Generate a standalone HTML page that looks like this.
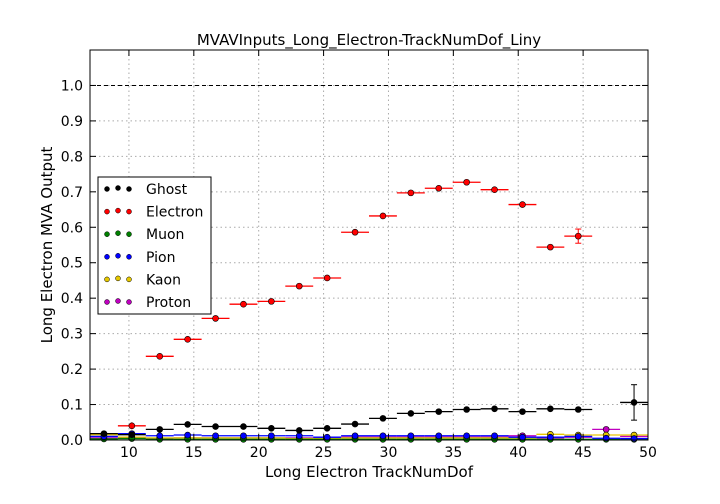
<!DOCTYPE html>
<html><head><meta charset="utf-8"><style>
body{margin:0;background:#fff;overflow:hidden;}
svg{display:block;}
svg text{font-family:"DejaVu Sans","Liberation Sans",sans-serif;}
</style></head><body>
<svg id="chart" width="720" height="504" viewBox="0 0 720 504" xmlns="http://www.w3.org/2000/svg">
<rect width="720" height="504" fill="#fff"/>
<g id="grid"></g>
<g id="marks"></g>
<g id="axes"></g>
<text x="369" y="45" font-size="15" text-anchor="middle">MVAVInputs_Long_Electron-TrackNumDof_Liny</text>
<text x="369" y="477" font-size="15" text-anchor="middle">Long Electron TrackNumDof</text>
<text x="0" y="0" font-size="15" text-anchor="middle" transform="translate(52,245) rotate(-90)">Long Electron MVA Output</text>
</svg>
<script>
const binCenters=[8.075,10.225,12.375,14.525,16.675,18.825,20.975,23.125,25.275,27.425,29.575,31.725,33.875,36.025,38.175,40.325,42.475,44.625,46.775,48.925];
const ghost=[0.018,0.015,0.030,0.044,0.038,0.038,0.033,0.027,0.033,0.045,0.061,0.075,0.080,0.086,0.088,0.080,0.088,0.086,null,0.106];
const ghostErr=[0.003,0.003,0.003,0.003,0.003,0.003,0.003,0.003,0.003,0.003,0.003,0.003,0.003,0.003,0.003,0.003,0.003,0.003,0,0.05];
const electron=[null,0.040,0.236,0.284,0.343,0.383,0.391,0.434,0.457,0.586,0.632,0.697,0.710,0.727,0.706,0.664,0.544,0.575,null,null];
const electronErr=[0,0.01,0.008,0.006,0.005,0.005,0.005,0.005,0.005,0.005,0.005,0.005,0.005,0.005,0.005,0.006,0.008,0.02,0,0];
const muon=[0.003,0.004,0.002,0.002,0.002,0.002,0.002,0.002,0.002,0.002,0.002,0.002,0.002,0.002,0.002,0.002,0.002,0.002,0.002,0.002];
const pion=[0.010,0.018,0.012,0.014,0.012,0.012,0.012,0.012,0.008,0.012,0.012,0.012,0.012,0.012,0.012,0.008,0.008,0.010,0.005,0.004];
const kaon=[0.015,0.008,0.006,0.006,0.006,0.006,0.006,0.004,0.004,0.006,0.006,0.006,0.006,0.006,0.006,0.006,0.016,0.014,0.014,0.014];
const proton=[0.006,0.006,0.004,0.006,0.006,0.006,0.006,0.006,0.006,0.008,0.008,0.008,0.008,0.008,0.008,0.012,0.006,0.008,0.030,0.010];
const xTicks=[10,15,20,25,30,35,40,45,50];
const yTicks=[0,0.1,0.2,0.3,0.4,0.5,0.6,0.7,0.8,0.9,1.0];
const binWidth=2.15;
const L=90,R=648,T=50,B=440,XMIN=7,XMAX=50,YMIN=0,YMAX=1.1;
const X=v=>L+(v-XMIN)/(XMAX-XMIN)*(R-L);
const Y=v=>B-(v-YMIN)/(YMAX-YMIN)*(B-T);
const NS="http://www.w3.org/2000/svg";
function mk(tag,attrs,parent,text){const e=document.createElementNS(NS,tag);for(const k in attrs)e.setAttribute(k,attrs[k]);if(text!==undefined)e.textContent=text;parent.appendChild(e);return e;}
const grid=document.getElementById('grid'),marks=document.getElementById('marks'),axes=document.getElementById('axes');
xTicks.forEach(t=>{const l=mk('line',{x1:X(t),x2:X(t),y1:T,y2:B,stroke:'#aaa','stroke-dasharray':'1.5,3'},grid);

});
yTicks.forEach(t=>{const l=mk('line',{x1:L,x2:R,y1:Y(t),y2:Y(t),stroke:'#aaa','stroke-dasharray':'1.5,3'},grid);

});
const ref=mk('line',{x1:L,x2:R,y1:Y(1),y2:Y(1),stroke:'#000','stroke-dasharray':'4,3'},grid);


const series=[
 {name:'proton',vals:proton,err:null,color:'#bf00bf'},
 {name:'kaon',vals:kaon,err:null,color:'#e6c800'},
 {name:'muon',vals:muon,err:null,color:'#007f00'},
 {name:'pion',vals:pion,err:null,color:'#0000ff'},
 {name:'ghost',vals:ghost,err:ghostErr,color:'#000'},
 {name:'electron',vals:electron,err:electronErr,color:'#ff0000'}];
series.forEach(s=>{
 const g=mk('g',{},marks);
 
 
 s.vals.forEach((v,i)=>{
  if(v===null)return;
  const c=binCenters[i],x=X(c),y=Y(v);
  const h=mk('line',{x1:X(c-binWidth/2),x2:X(c+binWidth/2),y1:y,y2:y,stroke:s.color,'stroke-width':1.3},g);
  
  
  if(s.err&&s.err[i]){const e=mk('line',{x1:x,x2:x,y1:Y(v-s.err[i]),y2:Y(v+s.err[i]),stroke:s.color},g);
   
   
   if(s.err[i]>0.01){[v-s.err[i],v+s.err[i]].forEach(w=>{const cap=mk('line',{x1:x-3,x2:x+3,y1:Y(w),y2:Y(w),stroke:s.color},g);
    
    });}}
  const p=mk('circle',{cx:x,cy:y,r:3,fill:s.color,stroke:'#000','stroke-width':0.6},g);
  
  
 });
});
const frame=mk('rect',{x:L,y:T,width:R-L,height:B-T,fill:'none',stroke:'#000'},axes);


xTicks.forEach(t=>{mk('line',{x1:X(t),x2:X(t),y1:B,y2:B-6,stroke:'#000'},axes);mk('line',{x1:X(t),x2:X(t),y1:T,y2:T+6,stroke:'#000'},axes);
 const tx=mk('text',{x:X(t),y:B+17,'font-size':14,'text-anchor':'middle'},axes,String(t));
 
 });
yTicks.forEach(t=>{mk('line',{x1:L,x2:L+6,y1:Y(t),y2:Y(t),stroke:'#000'},axes);mk('line',{x1:R,x2:R-6,y1:Y(t),y2:Y(t),stroke:'#000'},axes);
 const tx=mk('text',{x:L-7,y:Y(t)+5,'font-size':14,'text-anchor':'end'},axes,t.toFixed(1));
 
 });
const lg=mk('g',{},axes);


mk('rect',{x:98,y:177,width:113,height:137,fill:'#fff',stroke:'#000'},lg);
const legendNames=['Ghost','Electron','Muon','Pion','Kaon','Proton'];
const legendColors=['#000','#ff0000','#007f00','#0000ff','#e6c800','#bf00bf'];
legendNames.forEach((n,i)=>{const yy=189+i*22.6;
 const e=mk('g',{},lg);
 
 
 [107,118,129].forEach((xx,j)=>mk('circle',{cx:xx,cy:yy+(j==1?-1:0),r:2.5,fill:legendColors[i],stroke:'#000','stroke-width':0.5},e));
 mk('text',{x:146,y:yy+5,'font-size':14},e,n);});
</script>
</body></html>
